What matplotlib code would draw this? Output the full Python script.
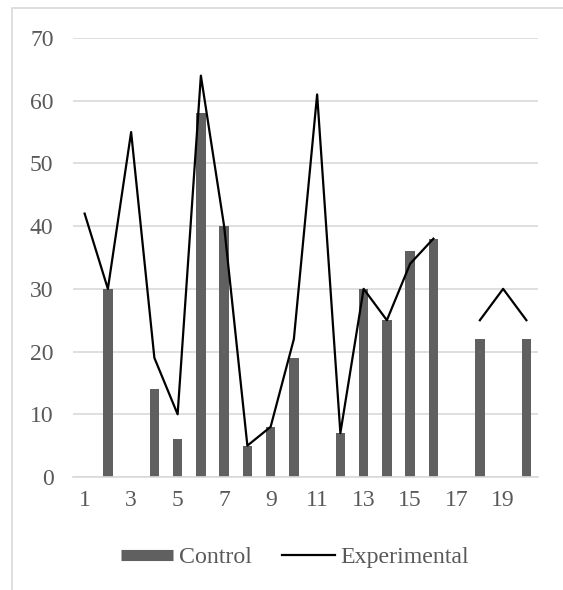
import numpy as np
import matplotlib
matplotlib.use("Agg")
import matplotlib.pyplot as plt
from matplotlib.lines import Line2D
from matplotlib.patches import Rectangle

categories = [str(i) for i in range(1, 21)]
control = [np.nan, 30, np.nan, 14, 6, 58, 40, 5, 8, 19, np.nan, 7, 30, 25, 36, 38, np.nan, 22, np.nan, 22]
experimental = [42, 30, 55, 19, 10, 64, 40, 5, 8, 22, 61, 7, 30, 25, 34, 38, np.nan, 25, 30, 25]
yticks = [0, 10, 20, 30, 40, 50, 60, 70]

plt.rcParams['font.family'] = ['Liberation Serif', 'DejaVu Serif']
txt = '#595959'
grid = '#d9d9d9'
barc = '#606060'

fig = plt.figure(figsize=(5.63, 5.90), dpi=100)
ax = fig.add_axes([73/563, 1-477/590, (538-73)/563, (477-38)/590])

x = np.arange(len(categories))
ax.bar(x, control, width=0.4, color=barc, zorder=2)
ax.plot(x, experimental, color='black', lw=1.6, zorder=3)

ax.set_xlim(-0.5, len(categories)-0.5)
ax.set_ylim(0, 70)
ax.set_yticks(yticks)
ax.set_yticklabels([str(v) for v in yticks])
ax.set_xticks(x[::2])
ax.set_xticklabels(categories[::2])
ax.yaxis.grid(True, color=grid, lw=1.2, zorder=0)
ax.set_axisbelow(True)
for s in ['top', 'right', 'left']:
    ax.spines[s].set_visible(False)
ax.spines['bottom'].set_color(grid)
ax.spines['bottom'].set_linewidth(1.2)
ax.tick_params(axis='both', length=0, labelsize=17, colors=txt)
ax.tick_params(axis='y', pad=14)
ax.tick_params(axis='x', pad=9)

handles = [Line2D([0], [0], color=barc, lw=8, solid_capstyle='butt'),
           Line2D([0], [0], color='black', lw=1.6)]
leg = fig.legend(handles, ['Control', 'Experimental'], loc='center',
                 bbox_to_anchor=(295/563, 1-557/590), ncol=2, frameon=False,
                 fontsize=17.2, handlelength=2.2, handletextpad=0.25,
                 columnspacing=1.25, labelcolor=txt)

fig.patches.append(Rectangle((12/563, -0.5), 2, 0.5 + 1 - 8/590,
                             transform=fig.transFigure, fill=False,
                             edgecolor=grid, lw=1.2))

fig.savefig('out.png', dpi=100)
